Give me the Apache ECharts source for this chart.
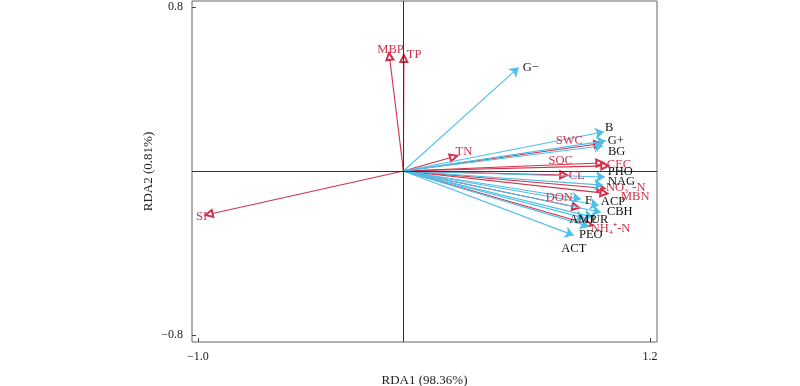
<!DOCTYPE html>
<html>
<head>
<meta charset="utf-8">
<script src="https://cdn.jsdelivr.net/npm/echarts@6/dist/echarts.min.js"></script>
<style>html,body{margin:0;padding:0;background:#fff}#c{width:800px;height:386px}</style>
</head>
<body>
<div id="c"></div>
<script>
// ---- data (RDA scores) ----
const envNames = ['MBP', 'TP', 'TN', 'SI', 'SWC', 'SOC', 'CEC', 'CL', 'NO₃⁻-N', 'MBN', 'DON', 'NH₄⁺-N'];
const envX = [-0.068, 0.002, 0.244, -0.946, 0.946, 0.956, 0.980, 0.780, 0.961, 0.976, 0.839, 0.902];
const envY = [0.559, 0.549, 0.069, -0.211, 0.132, 0.039, 0.025, -0.020, -0.083, -0.108, -0.176, -0.260];

const bioNames = ['G−', 'B', 'G+', 'BG', 'PHO', 'NAG', 'F', 'ACP', 'CBH', 'UR', 'AMP', 'PEO', 'ACT'];
const bioX = [0.561, 0.976, 0.985, 0.971, 0.980, 0.971, 0.864, 0.951, 0.961, 0.922, 0.883, 0.902, 0.829];
const bioY = [0.505, 0.191, 0.147, 0.123, -0.029, -0.069, -0.137, -0.167, -0.201, -0.225, -0.230, -0.270, -0.314];

const xTickValues = [-1.0, 1.2];
const yTickValues = [0.8, -0.8];
const xName = 'RDA1 (98.36%)';
const yName = 'RDA2 (0.81%)';

// ---- styles ----
const RED = '#d2304a';
const BLUE = '#4dbfe9';
const FONT = "'Liberation Serif', 'Times New Roman', serif";
// label anchor: [align, dx, dy] relative to arrow tip (pixels)
const labelStyle = {
  'MBP': ['center', 1, -7], 'TP': ['left', 3, -4], 'TN': ['left', 2, -5], 'SI': ['right', -2, 2],
  'SWC': ['right', -15, -3], 'SOC': ['right', -27, -2], 'CEC': ['left', 2, -1], 'CL': ['left', 5, 1],
  'NO₃⁻-N': ['left', 5, 0], 'MBN': ['left', 17, 4], 'DON': ['right', -3, -9], 'NH₄⁺-N': ['left', 2, 4],
  'G−': ['left', 4, 0], 'B': ['left', 1, -4], 'G+': ['left', 2, 0], 'BG': ['left', 5, 6],
  'PHO': ['left', 3, -5], 'NAG': ['left', 5, -3], 'F': ['left', 4, 2], 'ACP': ['left', 2, -4],
  'CBH': ['left', 6, 0], 'UR': ['left', -2, 3], 'AMP': ['center', -2, 2], 'PEO': ['center', 2, 8],
  'ACT': ['center', 0, 13]
};

function arrows(names, xs, ys) {
  return names.map((n, i) => ({ name: n, coords: [[0, 0], [xs[i], ys[i]]] }));
}
function labels(names, xs, ys, color) {
  return names.map((n, i) => {
    const s = labelStyle[n];
    return {
      name: n, value: [xs[i], ys[i]],
      label: { show: true, position: 'inside', align: s[0], verticalAlign: 'middle', offset: [s[1], s[2]],
        formatter: n, color: color, fontFamily: FONT, fontSize: 12.5, textBorderWidth: 0 }
    };
  });
}
const fmt = v => String(v.toFixed(1)).replace('-', '−');

const chart = echarts.init(document.getElementById('c'), null, { renderer: 'canvas' });
chart.setOption({
  animation: false,
  backgroundColor: '#fff',
  grid: { left: 192, right: 143, top: 1, bottom: 44, show: true, borderColor: '#666', borderWidth: 1,
    containLabel: false, outerBoundsMode: 'none' },
  xAxis: {
    type: 'value', min: -1.029, max: 1.234,
    splitLine: { show: false },
    axisLine: { show: false, onZero: false },
    axisTick: { show: true, inside: true, length: 4, customValues: xTickValues, lineStyle: { color: '#444' } },
    axisLabel: { customValues: xTickValues, formatter: fmt, color: '#222', fontFamily: FONT, fontSize: 12, margin: 9 },
    name: xName, nameLocation: 'middle', nameGap: 32, nameMoveOverlap: false,
    nameTextStyle: { color: '#222', fontFamily: FONT, fontSize: 13 }
  },
  yAxis: {
    type: 'value', min: -0.834, max: 0.829,
    splitLine: { show: false },
    axisLine: { show: false, onZero: false },
    axisTick: { show: true, inside: true, length: 4, customValues: yTickValues, lineStyle: { color: '#444' } },
    axisLabel: { customValues: yTickValues, formatter: fmt, color: '#222', fontFamily: FONT, fontSize: 12, margin: 9 },
    name: yName, nameLocation: 'middle', nameGap: 37, nameMoveOverlap: false,
    nameTextStyle: { color: '#222', fontFamily: FONT, fontSize: 13 }
  },
  series: [
    {
      type: 'scatter', data: [], silent: true,
      markLine: {
        silent: true, symbol: 'none', label: { show: false },
        lineStyle: { color: '#333', width: 1, type: 'solid' },
        data: [{ xAxis: 0 }, { yAxis: 0 }]
      }
    },
    {
      type: 'lines', coordinateSystem: 'cartesian2d', silent: true, z: 3,
      symbol: ['none', 'emptyTriangle'], symbolSize: [5, 7],
      lineStyle: { color: RED, width: 1.1, opacity: 1 },
      data: arrows(envNames, envX, envY)
    },
    {
      type: 'lines', coordinateSystem: 'cartesian2d', silent: true, z: 4,
      symbol: ['none', 'arrow'], symbolSize: [6, 9],
      lineStyle: { color: BLUE, width: 1.1, opacity: 1 },
      data: arrows(bioNames, bioX, bioY)
    },
    {
      type: 'scatter', symbolSize: 0, silent: true, z: 6, itemStyle: { opacity: 1 },
      data: labels(envNames, envX, envY, RED)
    },
    {
      type: 'scatter', symbolSize: 0, silent: true, z: 6, itemStyle: { opacity: 1 },
      data: labels(bioNames, bioX, bioY, '#111')
    }
  ]
});
</script>
</body>
</html>
